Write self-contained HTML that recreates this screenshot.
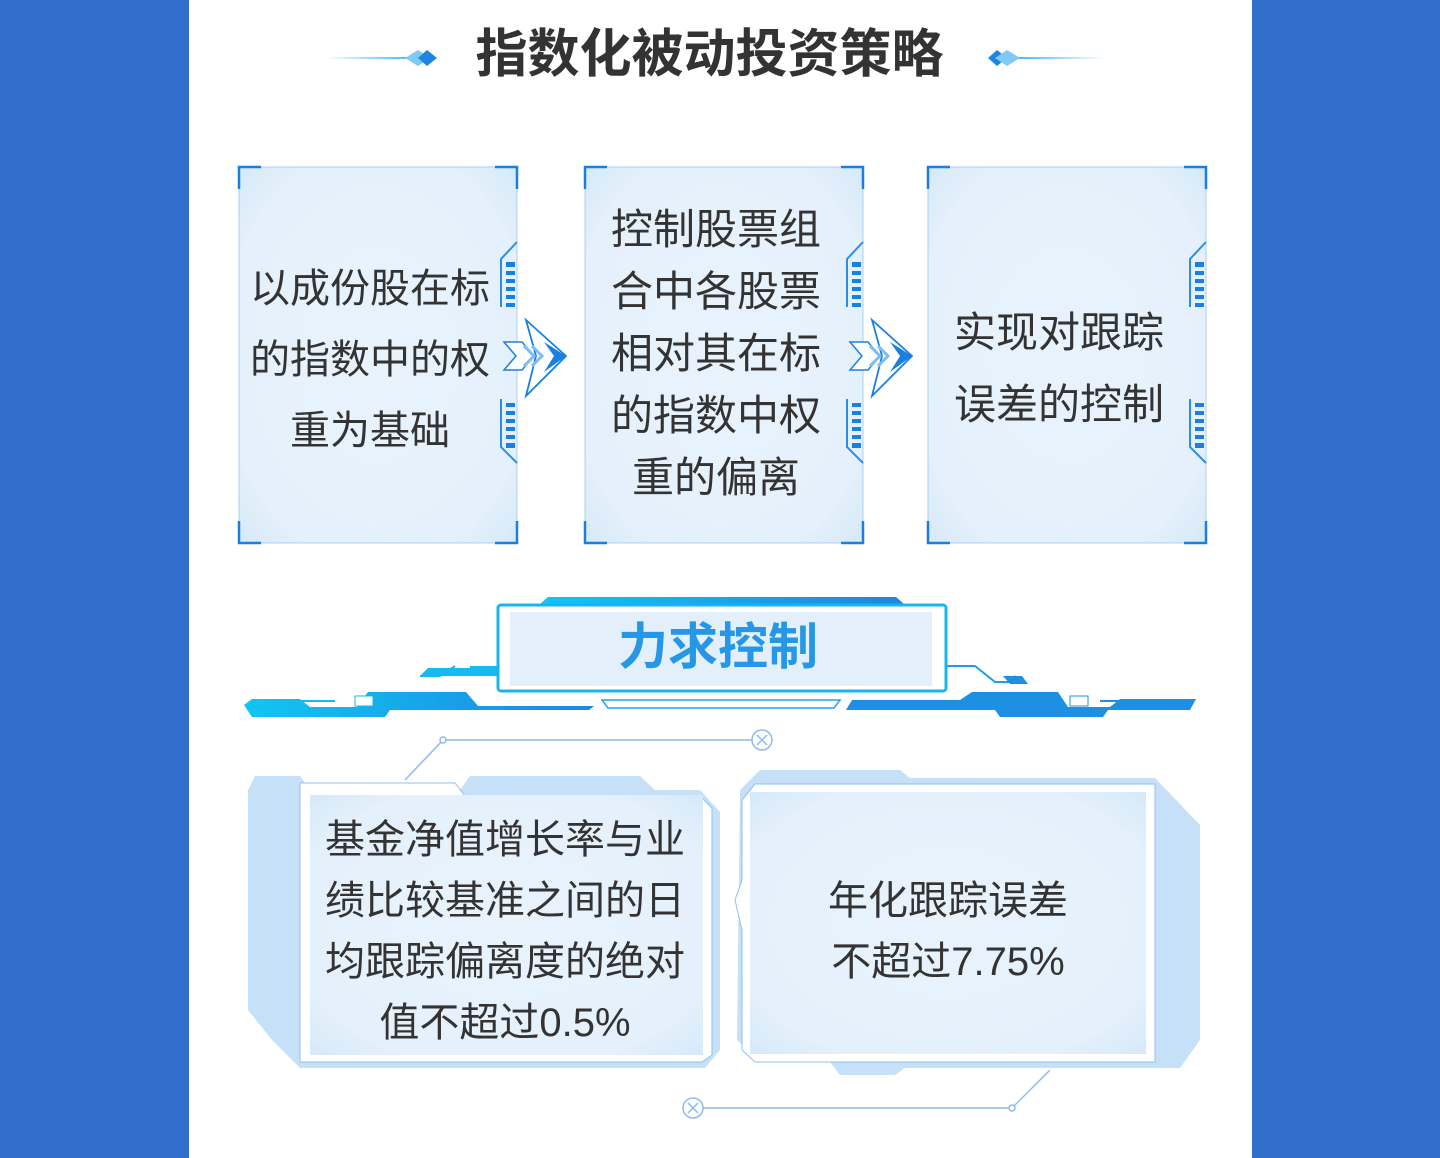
<!DOCTYPE html>
<html><head><meta charset="utf-8"><style>
html,body{margin:0;padding:0}
body{width:1440px;height:1158px;background:#316ecb;position:relative;overflow:hidden;font-family:"Liberation Sans","Noto Sans CJK SC",sans-serif}
#page{position:absolute;left:189px;top:0;width:1063px;height:1158px;background:#fff}
.t{position:absolute;text-align:center;color:#333;font-size:40px;white-space:nowrap}
</style></head><body>
<div id="page"></div>
<svg width="1440" height="1158" style="position:absolute;left:0;top:0">
<defs>
<linearGradient id="ll" x1="0" x2="1"><stop offset="0" stop-color="#3db8f5" stop-opacity="0"/><stop offset="1" stop-color="#3db8f5"/></linearGradient>
<linearGradient id="lr" x1="1" x2="0"><stop offset="0" stop-color="#3db8f5" stop-opacity="0"/><stop offset="1" stop-color="#3db8f5"/></linearGradient>
<linearGradient id="bar" x1="0" x2="1"><stop offset="0" stop-color="#0fc6f2"/><stop offset="1" stop-color="#1e86e0"/></linearGradient>
<radialGradient id="bx" cx="0.5" cy="0.5" r="0.7"><stop offset="0" stop-color="#e8f3fc"/><stop offset="0.8" stop-color="#e4f0fb"/><stop offset="1" stop-color="#d6e9f9"/></radialGradient>
<g id="box">
<rect x="0" y="0" width="278" height="376" fill="url(#bx)" stroke="#a9d0f3" stroke-width="1"/>
<path d="M0,22V0H22M256,0H278V22M0,354V376H22M256,376H278V354" fill="none" stroke="#1a80e0" stroke-width="2.5"/>
<path d="M278,75L262,92V140M262,232V280L278,296" fill="none" stroke="#2c8de6" stroke-width="2"/>
<g fill="#1a80e0"><rect x="267" y="95" width="9" height="5"/><rect x="267" y="104" width="9" height="4"/><rect x="267" y="112" width="9" height="4"/><rect x="267" y="120" width="9" height="4"/><rect x="267" y="128" width="9" height="4"/><rect x="267" y="136" width="9" height="4"/>
<rect x="267" y="236" width="9" height="4"/><rect x="267" y="244" width="9" height="4"/><rect x="267" y="252" width="9" height="4"/><rect x="267" y="260" width="9" height="4"/><rect x="267" y="268" width="9" height="4"/><rect x="267" y="276" width="9" height="5"/></g>
</g>
<g id="arr">
<path d="M0,10H18L30,24L18,38H0L12,24Z" fill="#fff" stroke="#1a80e0" stroke-width="1.5"/>
<path d="M22,-12L62,24L22,64L32,24Z" fill="#fff" stroke="#1a80e0" stroke-width="1.8"/>
<path d="M40,10L62,24L40,40L50,24Z" fill="#1a80e0"/>
<path d="M20,14L30,24L20,34M28,14L38,24L28,34" fill="none" stroke="#7dbdf3" stroke-width="3"/>
</g>
</defs>
<rect x="325" y="57" width="90" height="2" fill="url(#ll)"/>
<path d="M405,58L418,50L430,58L418,66Z" fill="#7fc9f5"/><path d="M418,58L427,50L437,58L427,66Z" fill="#1e86e0"/>
<rect x="1015" y="57" width="90" height="2" fill="url(#lr)"/>
<path d="M988,58L997,50L1007,58L997,66Z" fill="#1e86e0"/><path d="M995,58L1007,50L1020,58L1007,66Z" fill="#7fc9f5"/>
<use href="#box" x="239" y="167"/><use href="#box" x="585" y="167"/><use href="#box" x="928" y="167"/>
<use href="#arr" x="504" y="332"/><use href="#arr" x="850" y="332"/>
<path d="M540,604L548,597H896L904,604Z" fill="url(#bar)"/>
<path d="M470,666H497V676H420L428,668H470Z" fill="#17baf0"/>
<path d="M945,666H975L995,682H1022L1014,676" fill="none" stroke="#1e9ee8" stroke-width="2"/>
<path d="M1003,676H1022L1028,684H1010Z" fill="#1e90e4"/>
<path d="M420,676H440L455,666" fill="none" stroke="#17baf0" stroke-width="2"/>
<rect x="498" y="605" width="448" height="86" rx="3" fill="#fff" stroke="#17b4ef" stroke-width="3"/>
<rect x="510" y="612" width="422" height="74" fill="#e3f0fb"/>
<path d="M244,705L252,699H300L310,707H357L368,692H466L478,706H594L589,710H390L385,717H252Z" fill="url(#bar)"/>
<path d="M846,710L852,700H960L972,692H1058L1068,707H1110L1120,699H1196L1190,710H1108L1103,717H1000L995,710Z" fill="#1e90e4"/>
<path d="M602,700H840L834,708H608Z" fill="none" stroke="#1ea6ec" stroke-width="1.5"/>
<rect x="295" y="700" width="40" height="2" fill="#17baf0"/><rect x="1100" y="700" width="40" height="2" fill="#1e90e4"/>
<rect x="355" y="696" width="18" height="10" fill="#fff" stroke="#17baf0"/><rect x="1070" y="696" width="18" height="10" fill="#fff" stroke="#1e90e4"/>
<rect x="326" y="715" width="12" height="2" fill="#17baf0"/><rect x="1015" y="715" width="12" height="2" fill="#1e90e4"/>
<g stroke="#8fb9ef" stroke-width="1.5" fill="none">
<path d="M405,780L443,740H752"/><circle cx="443" cy="740" r="3" fill="#fff"/><circle cx="762" cy="740" r="10"/>
<path d="M757,735L767,745M767,735L757,745"/>
<path d="M1050,1070L1012,1108H703"/><circle cx="1012" cy="1108" r="3" fill="#fff"/><circle cx="693" cy="1108" r="10"/>
<path d="M688,1103L698,1113M698,1103L688,1113"/>
</g>
<path d="M255,776H300L310,790H460L470,776H640L655,790H700L720,812V1050L705,1068H300L272,1040L248,1010V790Z" fill="#c6e1f7"/>
<path d="M300,783H455L465,796H700L712,808V1055L702,1062H300Z" fill="#fff" stroke="#8fc0ee" stroke-width="1"/>
<rect x="310" y="795" width="393" height="260" fill="url(#bx)"/>
<path d="M740,790L760,770H900L910,778H1155L1200,825V1040L1180,1068H905L895,1075H840L830,1062H760L737,1040Z" fill="#c6e1f7"/>
<path d="M742,800L755,784H1155V1062H755L742,1050V930L735,900L742,880Z" fill="#fff" stroke="#8fc0ee" stroke-width="1"/>
<rect x="750" y="792" width="396" height="262" fill="url(#bx)"/>
</svg>
<div class="t" style="left:178px;width:1063px;top:22px;font-size:52px;font-weight:bold;color:#333;line-height:66px">指数化被动投资策略</div>
<div class="t" style="left:239px;width:262px;top:254px;line-height:71px">以成份股在标<br>的指数中的权<br>重为基础</div>
<div class="t" style="left:585px;width:262px;top:199px;line-height:62px;font-size:42px">控制股票组<br>合中各股票<br>相对其在标<br>的指数中权<br>重的偏离</div>
<div class="t" style="left:928px;width:262px;top:297px;line-height:72px;font-size:42px">实现对跟踪<br>误差的控制</div>
<div class="t" style="left:498px;width:440px;top:612px;font-size:50px;font-weight:bold;color:#2597e6;line-height:70px">力求控制</div>
<div class="t" style="left:305px;width:400px;top:810px;font-size:40px;line-height:61px">基金净值增长率与业<br>绩比较基准之间的日<br>均跟踪偏离度的绝对<br>值不超过0.5%</div>
<div class="t" style="left:750px;width:396px;top:871px;font-size:40px;line-height:61px">年化跟踪误差<br>不超过7.75%</div>
</body></html>
